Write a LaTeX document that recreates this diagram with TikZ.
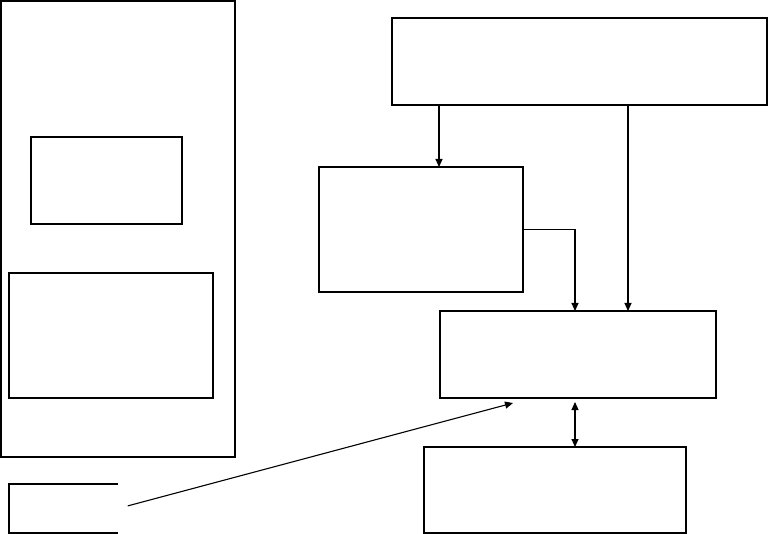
\documentclass[tikz,border=0pt]{standalone}
\usetikzlibrary{arrows.meta}
\begin{document}
\begin{tikzpicture}[x=1pt,y=-1pt,
	box/.style={draw,line width=1.1pt,inner sep=0pt,outer sep=0pt,anchor=north west},
	arr/.style={-{Triangle[length=8pt,width=7pt]},line width=1.1pt},
	dbl/.style={{Triangle[length=8pt,width=7pt]}-{Triangle[length=8pt,width=7pt]},line width=1.1pt}]
	\useasboundingbox (0,0) rectangle (768,534);
	\node[box,minimum width=234pt,minimum height=456pt] (panel) at (1,1) {};
	\node[box,minimum width=151pt,minimum height=87pt] (upper) at (31,137) {};
	\node[box,minimum width=204pt,minimum height=125pt] (lower) at (9,273) {};
	\node[inner sep=0pt,outer sep=0pt,anchor=north west,minimum width=109pt,minimum height=49pt] (key) at (9,484) {};
	\draw[line width=1.1pt] (key.north east) -- (key.north west) -- (key.south west) -- (key.south east);
	\node[box,minimum width=375pt,minimum height=87pt] (source) at (392,18) {};
	\node[box,minimum width=204pt,minimum height=125pt] (filter) at (319,167) {};
	\node[box,minimum width=276pt,minimum height=87pt] (core) at (440,311) {};
	\node[box,minimum width=262pt,minimum height=86pt] (store) at (424,447) {};
	\coordinate (xa) at (439,0);
	\coordinate (xb) at (575,0);
	\coordinate (xc) at (628,0);
	\coordinate (hit) at (513,403);
	\draw[arr] (source.south -| xa) -- (filter.north -| xa);
	\draw[arr] (source.south -| xc) -- (core.north -| xc);
	\draw[arr] (filter.east) -| (core.north -| xb);
	\draw[dbl,shorten <=4pt] (core.south -| xb) -- (store.north -| xb);
	\draw[arr,shorten <=10pt] (key.east) -- (hit);
\end{tikzpicture}
\end{document}
